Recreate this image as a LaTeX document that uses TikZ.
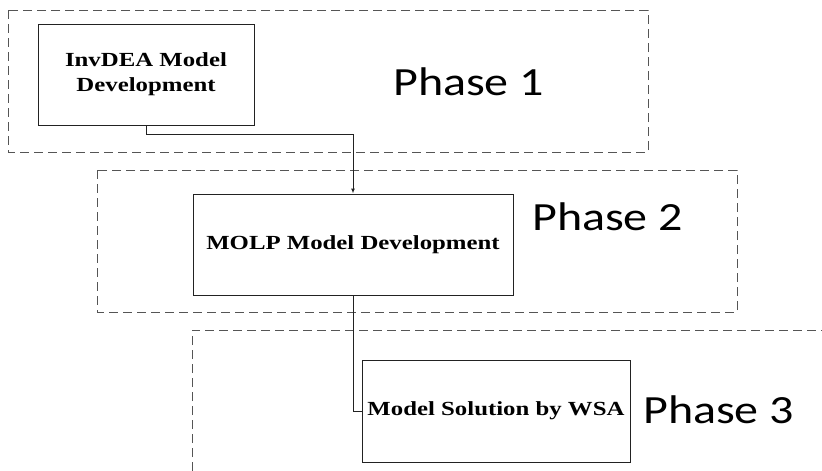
\documentclass[tikz,border=0pt]{standalone}
\usepackage{fontspec}
\usepackage{tikz}
\usetikzlibrary{arrows.meta}
\usepackage{xcolor}
\newfontfamily\boxfont[FakeStretch=1.24]{Liberation Serif}
\newfontfamily\phasefont[FakeStretch=1.2]{Carlito}
\definecolor{framec}{HTML}{555555}
\definecolor{linec}{HTML}{222222}

\begin{document}
\begin{tikzpicture}[x=1pt, y=-1pt,
  phaseframe/.style={framec, line width=1pt, dash pattern=on 9pt off 5pt},
  stepbox/.style={draw=linec, line width=1pt, align=center, inner sep=0pt,
    font=\boxfont\bfseries\fontsize{20}{25}\selectfont},
  phaselabel/.style={anchor=base west, inner sep=0pt, font=\phasefont\fontsize{40}{44}\selectfont}]
  \useasboundingbox (0,0) rectangle (822,471);

  % phase frames
  \draw[phaseframe] (8,10) rectangle (648,152);
  \draw[phaseframe] (97,170) rectangle (737,312);
  \draw[phaseframe] (192,471) -- (192,330) -- (822,330);

  % steps
  \node[stepbox, minimum width=216pt, minimum height=101pt] (inv) at (146,74.5)
    {InvDEA Model\\Development};
  \node[stepbox, minimum width=320pt, minimum height=101pt] (molp) at (353,244.5)
    {MOLP Model Development};
  \node[stepbox, minimum width=268pt, minimum height=102pt] (wsa) at (496,411)
    {Model Solution by WSA};

  % phase labels
  \node[phaselabel] (ph1) at (393,95) {Phase 1};
  \node[phaselabel] (ph2) at (532,230) {Phase 2};
  \node[phaselabel] (ph3) at (643,423) {Phase 3};

  % links
  \draw[linec, line width=1pt, -{Latex[length=5pt, width=4pt]}] (inv.south) -- ++(0,9) -| (molp.north);
  \draw[linec, line width=1pt] (molp.south) |- (wsa.west);
\end{tikzpicture}
\end{document}
